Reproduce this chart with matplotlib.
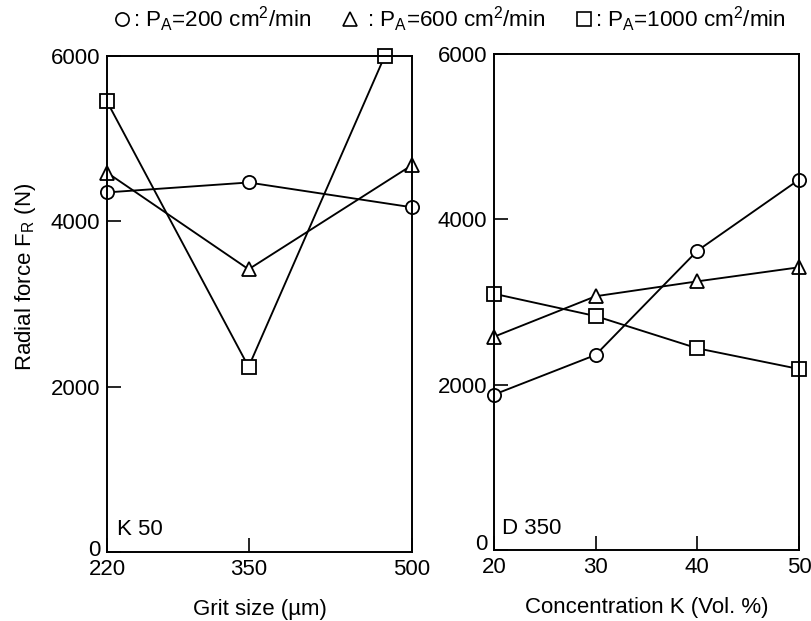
import matplotlib
matplotlib.use('Agg')
import matplotlib.pyplot as plt
import matplotlib.transforms as mtransforms
from matplotlib.lines import Line2D

plt.rcParams['font.family'] = ['Liberation Sans', 'DejaVu Sans']
plt.rcParams['mathtext.fontset'] = 'custom'
plt.rcParams['mathtext.rm'] = 'Liberation Sans'
plt.rcParams['mathtext.it'] = 'Liberation Sans:italic'

# left panel: grit size, K 50
grit_x = [220, 350, 500]
grit_x_sq = [220, 350, 475]
grit_p200 = [4350, 4470, 4170]
grit_p600 = [4590, 3420, 4680]
grit_p1000 = [5450, 2240, 6000]

# right panel: concentration, D 350
conc_x = [20, 30, 40, 50]
conc_p200 = [1880, 2360, 3620, 4480]
conc_p600 = [2580, 3070, 3250, 3420]
conc_p1000 = [3100, 2830, 2440, 2190]

series_labels = [': P$_\\mathrm{A}$=200 cm$^\\mathrm{2}$/min',
                 ' : P$_\\mathrm{A}$=600 cm$^\\mathrm{2}$/min',
                 ': P$_\\mathrm{A}$=1000 cm$^\\mathrm{2}$/min']
markers = ['o', '^', 's']
msizes = [9.5, 10.5, 9.5]

FS = 16

fig = plt.figure(figsize=(8.11, 6.21), dpi=100)
ax1 = fig.add_axes([0.1319, 0.1111, 0.3761, 0.7987])
ax2 = fig.add_axes([0.6091, 0.1143, 0.3761, 0.7987])

line_kw = dict(color='black', linewidth=1.35, mfc='white', mec='black',
               mew=1.3, clip_on=False)

ax1.plot(grit_x, grit_p200, marker='o', ms=msizes[0], **line_kw)
ax1.plot(grit_x, grit_p600, marker='^', ms=msizes[1], **line_kw)
ax1.plot(grit_x_sq, grit_p1000, marker='s', ms=msizes[2], **line_kw)

ax2.plot(conc_x, conc_p200, marker='o', ms=msizes[0], **line_kw)
ax2.plot(conc_x, conc_p600, marker='^', ms=msizes[1], **line_kw)
ax2.plot(conc_x, conc_p1000, marker='s', ms=msizes[2], **line_kw)

ax1.set_xlim(220, 500)
ax1.set_xticks(grit_x)
ax2.set_xlim(20, 50)
ax2.set_xticks(conc_x)

for ax, up in ((ax1, 4), (ax2, 8)):
    ax.set_ylim(0, 6000)
    ax.set_yticks([0, 2000, 4000, 6000])
    ax.tick_params(direction='in', length=10, width=1.2, labelsize=FS, pad=5)
    for sp in ax.spines.values():
        sp.set_linewidth(1.4)
    # lift the "0" label a little, like the original
    lab = ax.get_yticklabels()[0]
    lab.set_transform(lab.get_transform() +
                      mtransforms.ScaledTranslation(0, up / 100, fig.dpi_scale_trans))

ax1.set_xlabel('Grit size (µm)', fontsize=FS, labelpad=14)
ax2.set_xlabel('Concentration K (Vol. %)', fontsize=FS, labelpad=14)

ax1.text(0.033, 0.046, 'K 50', transform=ax1.transAxes, fontsize=FS,
         ha='left', va='center')
ax2.text(0.026, 0.044, 'D 350', transform=ax2.transAxes, fontsize=FS,
         ha='left', va='center')

fig.text(0.031, 0.554, 'Radial force F$_\\mathrm{R}$ (N)', fontsize=FS,
         rotation=90, ha='center', va='center')

handles = [Line2D([], [], marker=m, ls='none', ms=s, mfc='white', mec='black', mew=1.2)
           for m, s in zip(markers, msizes)]
fig.legend(handles, series_labels, loc='center', bbox_to_anchor=(0.554, 0.969),
           ncol=3, frameon=False, fontsize=16.2, handlelength=0.8,
           handletextpad=0.1, columnspacing=1.3, borderaxespad=0)

plt.savefig('out.png', dpi=100)
